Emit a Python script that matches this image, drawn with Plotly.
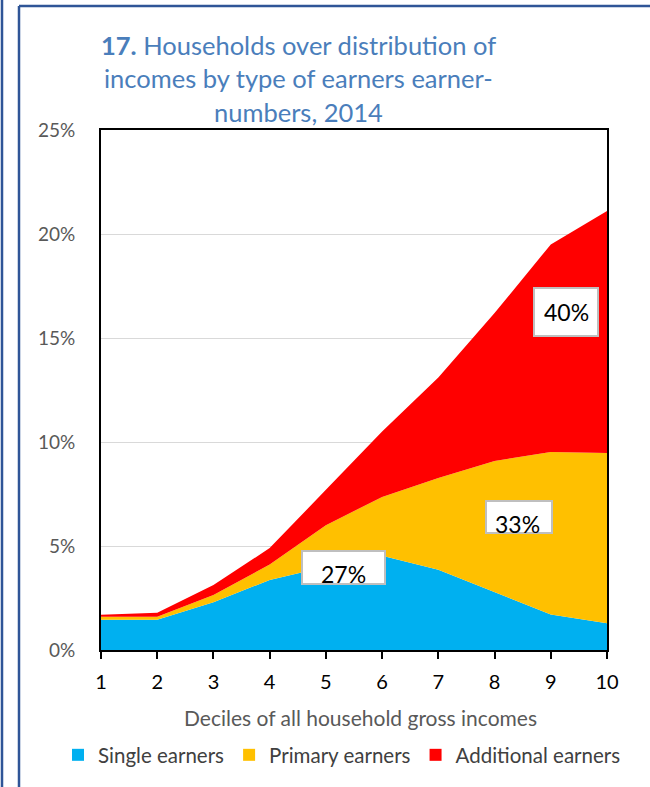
import plotly.graph_objects as go

deciles = [1, 2, 3, 4, 5, 6, 7, 8, 9, 10]
single_earners = [1.46, 1.46, 2.29, 3.37, 4.00, 4.53, 3.86, 2.79, 1.71, 1.29]
primary_earners = [0.14, 0.14, 0.36, 0.74, 2.00, 2.83, 4.41, 6.30, 7.81, 8.18]
additional_earners = [0.10, 0.19, 0.47, 0.79, 1.70, 3.14, 4.83, 7.11, 9.98, 11.63]
series_names = ["Single earners", "Primary earners", "Additional earners"]
series_colors = ["#00b0f0", "#ffc000", "#ff0000"]
share_labels = ["27%", "33%", "40%"]
y_ticks = [0, 0.05, 0.10, 0.15, 0.20, 0.25]

FONT = "Lato"
W, H = 650, 787
L, R, T, B = 101, 43, 130, 137
PW, PH = W - L - R, H - T - B


def px(p):
    return (p - L) / PW


def py(p):
    return (H - B - p) / PH


def dx(p):
    return 1 + (p - L) / PW * 9


def dy(p):
    return (H - B - p) / PH * 0.25


fig = go.Figure()
for name, vals, col in zip(series_names, [single_earners, primary_earners, additional_earners], series_colors):
    fig.add_trace(go.Scatter(
        x=deciles, y=[v / 100 for v in vals], name=name, stackgroup="one",
        mode="lines", line=dict(width=0, color=col), fillcolor=col, showlegend=False,
        hoverinfo="skip"))
    fig.add_trace(go.Scatter(
        x=[None], y=[None], name=name, mode="markers",
        marker=dict(symbol="square", size=12, color=col), showlegend=True))

# label boxes (pixel positions) and text centres
boxes = [
    (302, 385, 551, 584, 343, 574),
    (486, 552, 501, 533, 517, 524),
    (534, 598, 288, 336, 566, 312),
]
for (x0, x1, y0, y1, tx, ty), lab in zip(boxes, share_labels):
    fig.add_shape(type="rect", x0=dx(x0), x1=dx(x1), y0=dy(y1), y1=dy(y0), xref="x", yref="y",
                  fillcolor="white", line=dict(color="#bfbfbf", width=2), layer="above")
    fig.add_annotation(x=dx(tx), y=dy(ty), xref="x", yref="y", text=lab, showarrow=False,
                       font=dict(family=FONT, size=23, color="black"))

title_lines = ["<b>17.</b> Households over distribution of",
               "incomes by type of earners earner-",
               "numbers, 2014"]
title_y = [45, 78, 112]
for t, yy in zip(title_lines, title_y):
    fig.add_annotation(x=px(298), y=py(yy), xref="paper", yref="paper", text=t, showarrow=False,
                       xanchor="center", yanchor="middle",
                       font=dict(family=FONT, size=25.5, color="#4a7ebb"))

fig.add_annotation(x=px(360), y=py(717), xref="paper", yref="paper",
                   text="Deciles of all household gross incomes", showarrow=False,
                   xanchor="center", yanchor="middle",
                   font=dict(family=FONT, size=21, color="#595959"))

# outer frame lines
fc = "#2f5597"
fig.add_shape(type="line", xref="paper", yref="paper", x0=px(2), x1=px(2),
              y0=py(-5), y1=py(800), line=dict(color=fc, width=2.5))
fig.add_shape(type="line", xref="paper", yref="paper", x0=px(19), x1=px(19),
              y0=py(6), y1=py(800), line=dict(color=fc, width=2.5))
fig.add_shape(type="line", xref="paper", yref="paper", x0=px(19), x1=px(660),
              y0=py(6), y1=py(6), line=dict(color=fc, width=2.5))

fig.update_layout(
    width=W, height=H,
    margin=dict(l=L, r=R, t=T, b=B),
    paper_bgcolor="white", plot_bgcolor="white",
    font=dict(family=FONT),
    showlegend=True,
    legend=dict(orientation="h", x=px(58), xanchor="left", y=py(755), yanchor="middle",
                font=dict(family=FONT, size=20.5, color="#404040"), itemwidth=30,
                traceorder="normal", bgcolor="rgba(0,0,0,0)"),
    xaxis=dict(range=[1, 10], tickvals=deciles, showgrid=False, showline=True, linecolor="black",
               linewidth=2, mirror=True, ticks="outside", ticklen=7, tickwidth=2, tickcolor="black",
               tickfont=dict(family=FONT, size=20, color="black"), zeroline=False,
               ticklabelstandoff=6),
    yaxis=dict(range=[0, 0.25], tickvals=y_ticks, tickformat=".0%", showgrid=True,
               gridcolor="#d9d9d9", gridwidth=1, showline=True, linecolor="black", linewidth=2,
               mirror=True, ticks="", tickfont=dict(family=FONT, size=19, color="#595959"),
               ticklabelstandoff=20, zeroline=False),
)

fig.write_html("out.html", config={"displayModeBar": False},
               post_script="document.body.style.margin='0';")
